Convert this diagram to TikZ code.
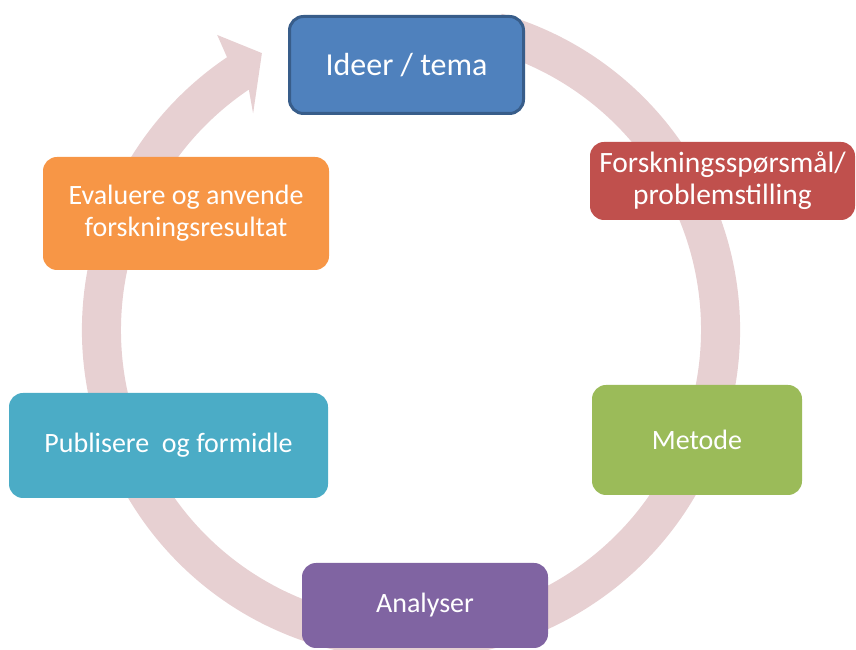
\documentclass[tikz,border=0pt]{standalone}
\usepackage{fontspec}
\setmainfont{Carlito}
\definecolor{ringc}{RGB}{231,208,210}
\definecolor{cblue}{RGB}{79,129,189}
\definecolor{cblueb}{RGB}{56,93,138}
\definecolor{cred}{RGB}{192,80,77}
\definecolor{cgreen}{RGB}{155,187,89}
\definecolor{cpurple}{RGB}{128,100,162}
\definecolor{cteal}{RGB}{75,172,198}
\definecolor{corange}{RGB}{247,150,70}
\begin{document}
\begin{tikzpicture}[x=1pt,y=1pt,
  box/.style={rectangle, rounded corners=14pt, text=white, align=center, inner sep=0pt, font=\fontsize{28}{32}\selectfont},
]
\useasboundingbox (0,0) rectangle (856,650);
% ring arrow
\begin{scope}[shift={(411,320)}]
\fill[ringc] (74:329) arc[start angle=74, end angle=-236, radius=329]
  -- (123.3:353) -- (118.3:314.5) -- (126.1:268) -- (124:290)
  arc[start angle=-236, end angle=74, radius=290] -- cycle;
\end{scope}
% boxes
\node[box, fill=cblue, draw=cblueb, line width=3pt, minimum width=234, minimum height=97, font=\fontsize{32}{36}\selectfont] (ideer) at (406.5,585) {Ideer / tema};
\node[box, fill=cred, minimum width=265, minimum height=78, font=\fontsize{29.5}{32}\selectfont] (forsk) at (722.5,469) {Forskningsspørsmål/\\problemstilling};
\node[box, fill=cgreen, minimum width=210, minimum height=110] (metode) at (697,210) {Metode};
\node[box, fill=cpurple, minimum width=246, minimum height=85] (analyser) at (425,44.5) {Analyser};
\node[box, fill=cteal, minimum width=319, minimum height=105] (publisere) at (168.5,204.5) {Publisere\ \ og formidle};
\node[box, fill=corange, minimum width=286, minimum height=113] (evaluere) at (186,436.5) {Evaluere og anvende\\forskningsresultat};
\end{tikzpicture}
\end{document}
